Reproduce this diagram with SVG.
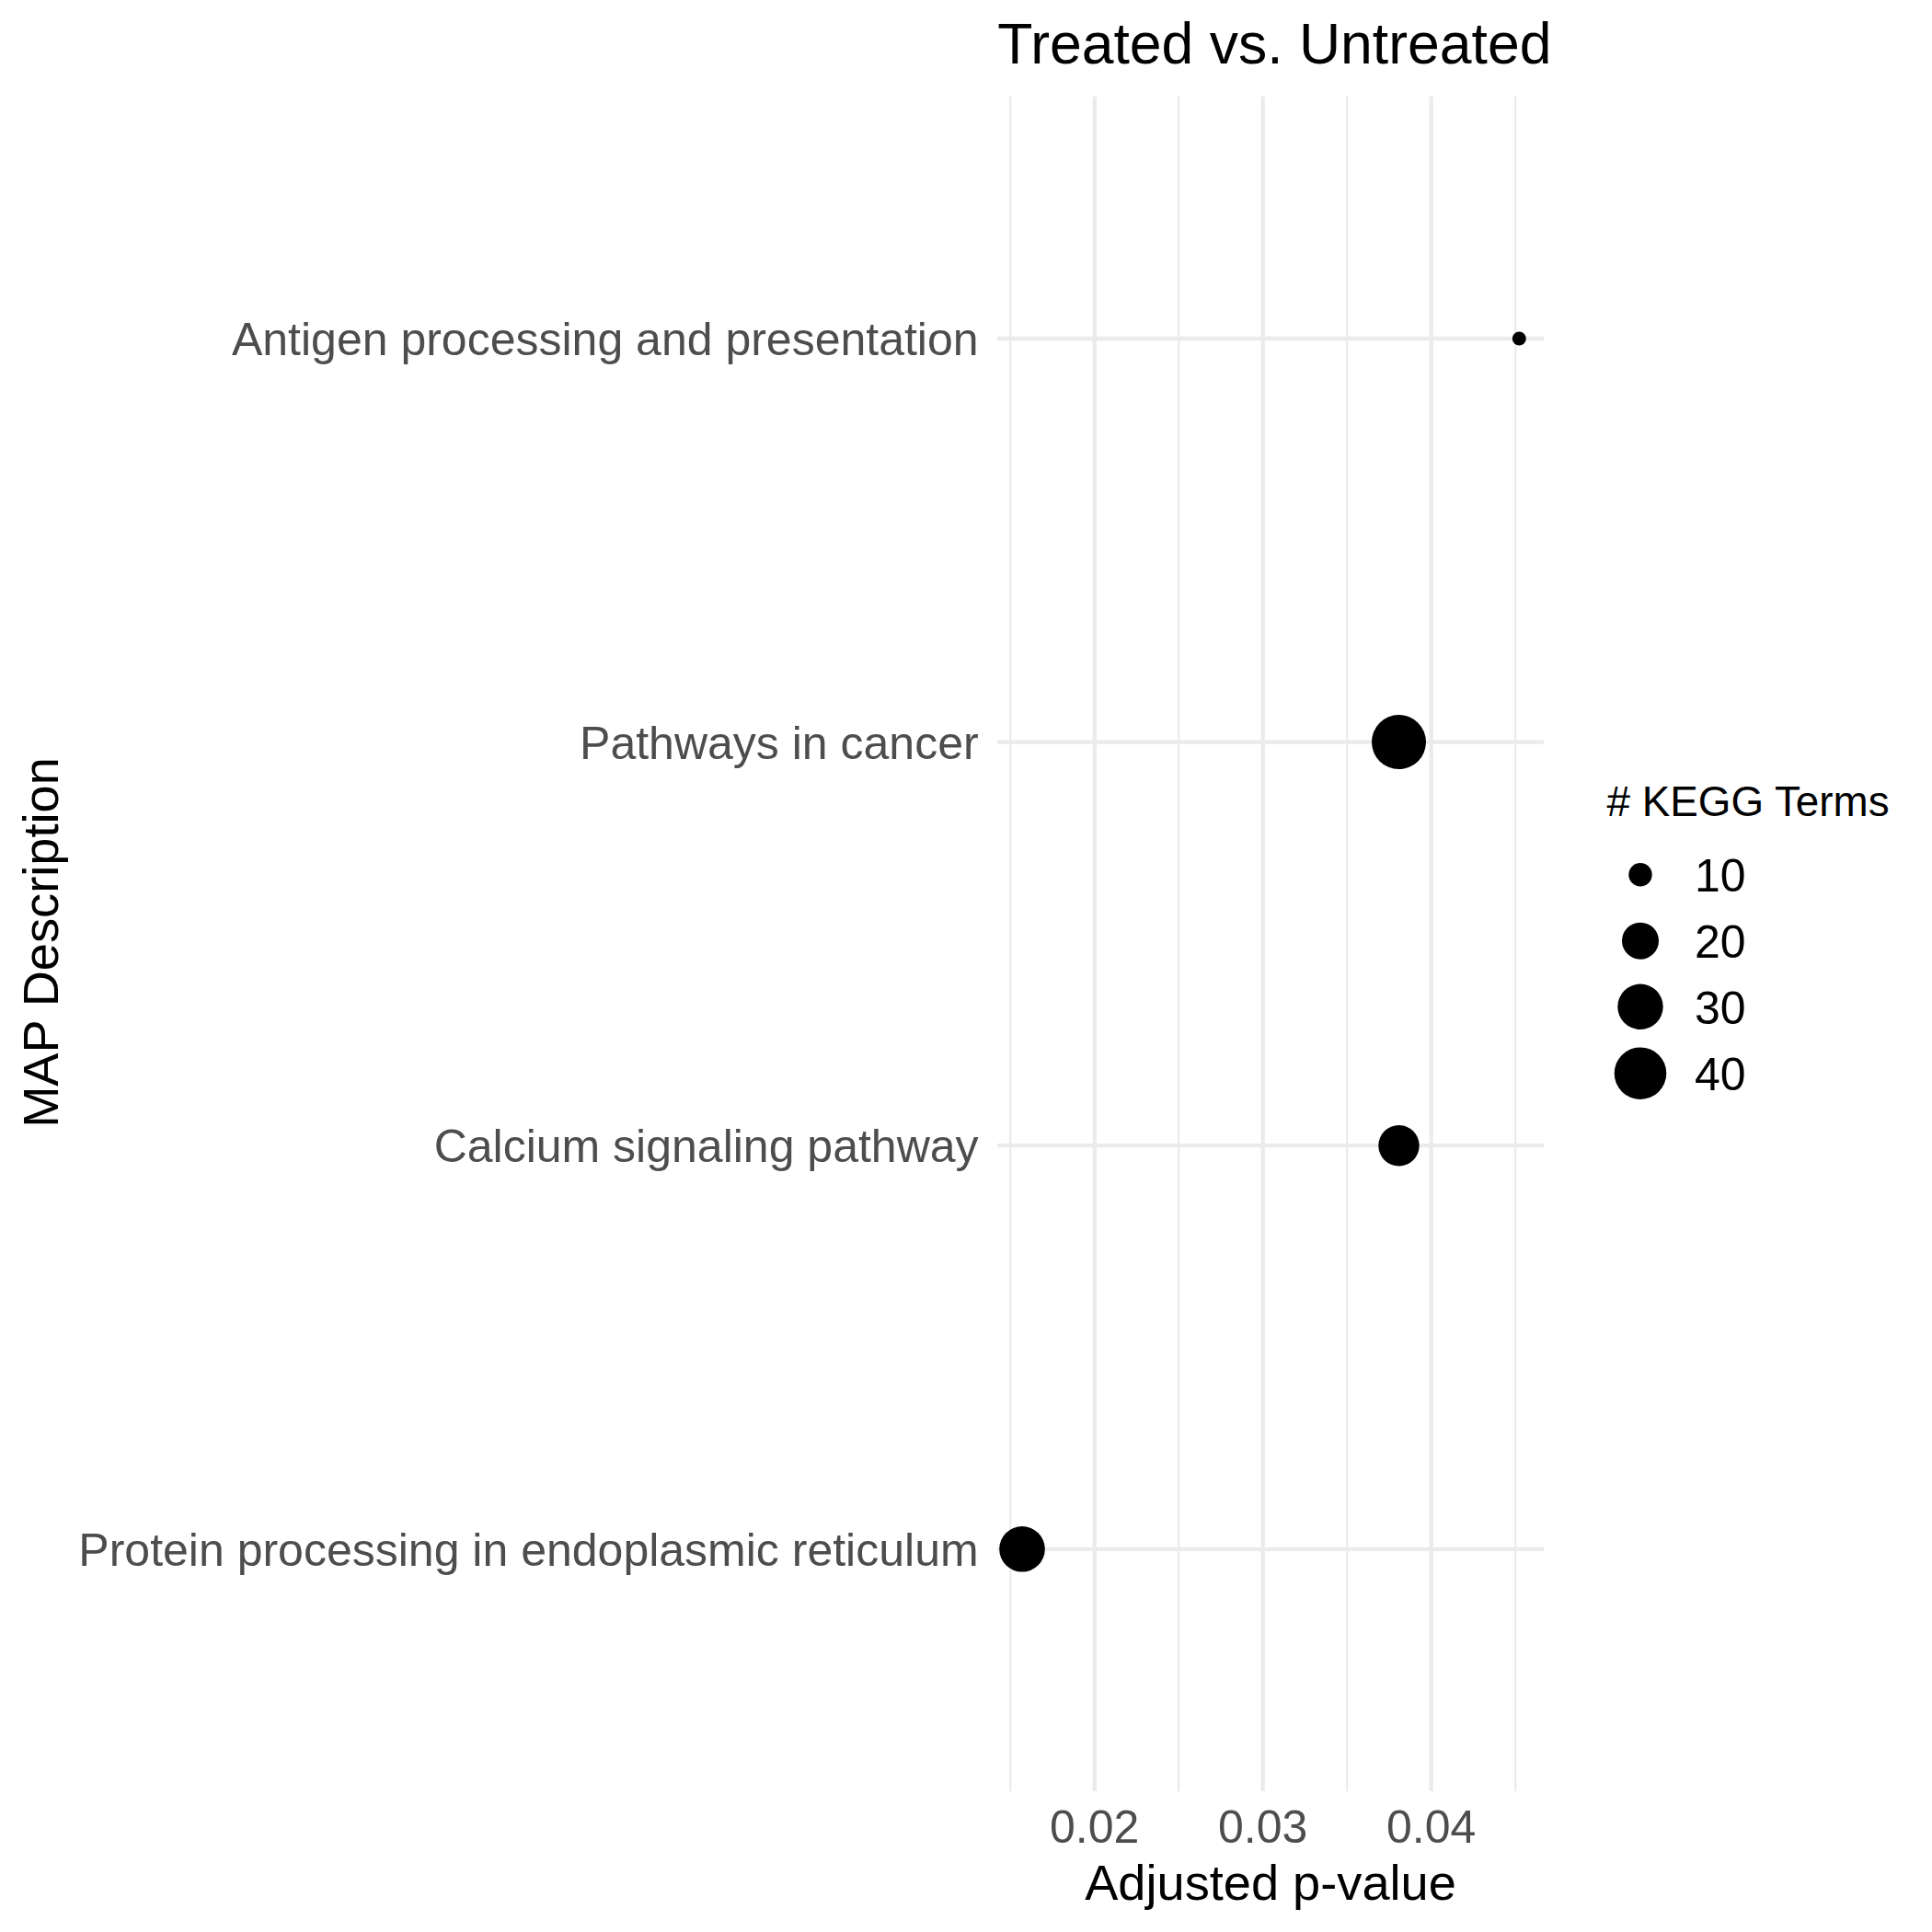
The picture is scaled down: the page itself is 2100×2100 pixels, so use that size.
<svg xmlns="http://www.w3.org/2000/svg" width="2100" height="2100" viewBox="0 0 2100 2100">
  <style>
    text { font-family: "Liberation Sans", Arial, Helvetica, sans-serif; }
    .major { stroke: #EBEBEB; stroke-width: 4.3; fill: none; }
    .minor { stroke: #EBEBEB; stroke-width: 2.2; fill: none; }
    .pt { fill: #000000; }
    .ylab { font-size: 50px; fill: #4D4D4D; text-anchor: end; }
    .xlab { font-size: 50px; fill: #4D4D4D; text-anchor: middle; }
    .axtitle { font-size: 54.2px; fill: #000000; text-anchor: middle; }
    .title { font-size: 62.5px; fill: #000000; }
    .legtitle { font-size: 45.8px; fill: #000000; }
    .legtext { font-size: 50px; fill: #000000; }
  </style>
  <rect x="0" y="0" width="2100" height="2100" fill="#FFFFFF"/>

  <g id="grid">
    <line class="minor" x1="1098.2" y1="104.8" x2="1098.2" y2="1947"/>
    <line class="minor" x1="1281.2" y1="104.8" x2="1281.2" y2="1947"/>
    <line class="minor" x1="1464.2" y1="104.8" x2="1464.2" y2="1947"/>
    <line class="minor" x1="1647.2" y1="104.8" x2="1647.2" y2="1947"/>
    <line class="major" x1="1189.7" y1="104.8" x2="1189.7" y2="1947"/>
    <line class="major" x1="1372.7" y1="104.8" x2="1372.7" y2="1947"/>
    <line class="major" x1="1555.7" y1="104.8" x2="1555.7" y2="1947"/>
    <line class="major" x1="1084" y1="368" x2="1678.3" y2="368"/>
    <line class="major" x1="1084" y1="806.6" x2="1678.3" y2="806.6"/>
    <line class="major" x1="1084" y1="1245.2" x2="1678.3" y2="1245.2"/>
    <line class="major" x1="1084" y1="1683.8" x2="1678.3" y2="1683.8"/>
  </g>

  <g id="point-antigen"><circle class="pt" cx="1651.3" cy="368" r="7.5"/></g>
  <g id="point-pathways"><circle class="pt" cx="1520.5" cy="806.6" r="29.5"/></g>
  <g id="point-calcium"><circle class="pt" cx="1520.5" cy="1245.2" r="22.2"/></g>
  <g id="point-protein"><circle class="pt" cx="1111" cy="1683.8" r="24.8"/></g>

  <g id="y-axis-labels">
    <text class="ylab" x="1063.6" y="386">Antigen processing and presentation</text>
    <text class="ylab" x="1063.6" y="824.6">Pathways in cancer</text>
    <text class="ylab" x="1063.6" y="1263.2">Calcium signaling pathway</text>
    <text class="ylab" x="1063.6" y="1701.8">Protein processing in endoplasmic reticulum</text>
  </g>

  <g id="x-axis-labels">
    <text class="xlab" x="1189.7" y="2003.3">0.02</text>
    <text class="xlab" x="1372.7" y="2003.3">0.03</text>
    <text class="xlab" x="1555.7" y="2003.3">0.04</text>
  </g>

  <g id="titles">
    <text class="title" x="1084.3" y="69">Treated vs. Untreated</text>
    <text class="axtitle" x="1381" y="2065">Adjusted p-value</text>
    <text class="axtitle" x="63" y="1024.5" transform="rotate(-90 63 1024.5)">MAP Description</text>
  </g>

  <g id="legend">
    <text class="legtitle" x="1746.5" y="886.7"># KEGG Terms</text>
    <circle class="pt" cx="1783" cy="950.7" r="12.7"/>
    <circle class="pt" cx="1783" cy="1022.7" r="20"/>
    <circle class="pt" cx="1783" cy="1094.3" r="24.7"/>
    <circle class="pt" cx="1783" cy="1166.7" r="28.3"/>
    <text class="legtext" x="1842" y="969">10</text>
    <text class="legtext" x="1842" y="1040.7">20</text>
    <text class="legtext" x="1842" y="1113">30</text>
    <text class="legtext" x="1842" y="1185">40</text>
  </g>
</svg>
